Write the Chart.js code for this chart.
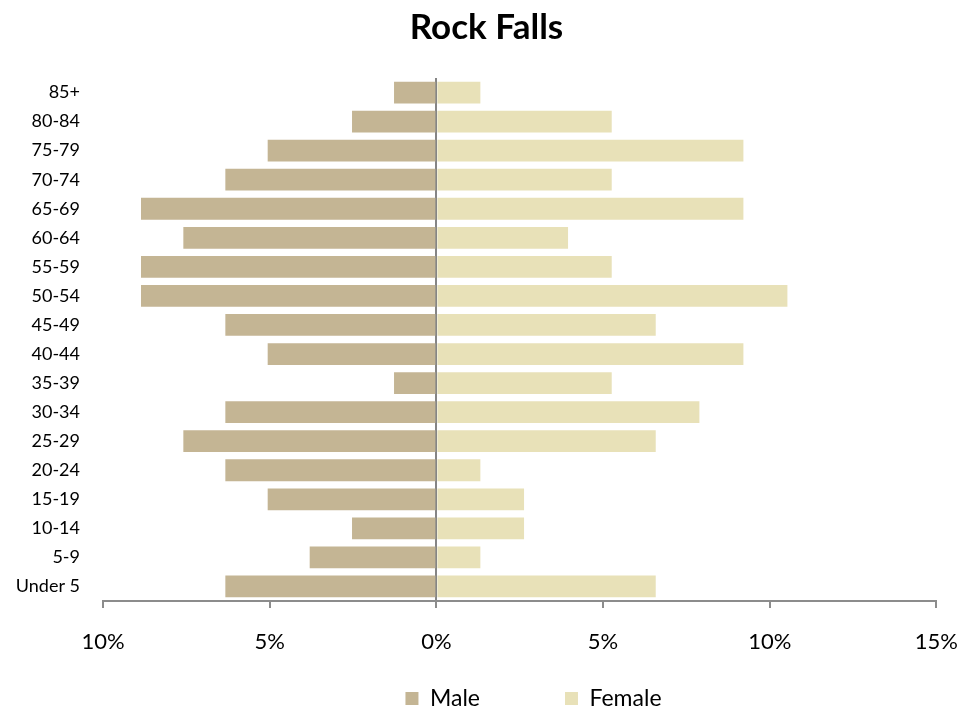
<!DOCTYPE html>
<html>
<head>
<meta charset="utf-8">
<title>Rock Falls</title>
<script src="https://cdn.jsdelivr.net/npm/chart.js@4"></script>
<style>
    html, body { margin: 0; padding: 0; background: #fff; }
    #wrap { width: 979px; height: 713px; }
</style>
</head>
<body>
<div id="wrap"><canvas id="pyramidChart"></canvas></div>
<script>
const ageGroups = ['85+', '80-84', '75-79', '70-74', '65-69', '60-64', '55-59', '50-54', '45-49',
    '40-44', '35-39', '30-34', '25-29', '20-24', '15-19', '10-14', '5-9', 'Under 5'];
// percent of each sex, male drawn to the left
const malePct = [1.27, 2.53, 5.06, 6.33, 8.86, 7.59, 8.86, 8.86, 6.33,
    5.06, 1.27, 6.33, 7.59, 6.33, 5.06, 2.53, 3.80, 6.33];
const femalePct = [1.32, 5.26, 9.21, 5.26, 9.21, 3.95, 5.26, 10.53, 6.58,
    9.21, 5.26, 7.89, 6.58, 1.32, 2.63, 2.63, 1.32, 6.58];
const xTicks = [-10, -5, 0, 5, 10, 15];

const fontFamily = 'Lato, "Open Sans", sans-serif';

// keep the legend items far apart without the padding also making the legend tall
const legendSpacing = {
    id: 'legendSpacing',
    beforeLayout(chart) {
        const legend = chart.legend;
        if (!legend || legend._spaced) return;
        const fit = legend.fit;
        legend.fit = function () {
            fit.call(this);
            this.height = 59;
        };
        legend._spaced = true;
    },
    afterLayout(chart) {
        const legend = chart.legend;
        legend.top = legend.bottom - legend.options.labels.padding - 26;
        legend.left += 65;
        legend.right += 65;
        chart.titleBlock.left += 18;
        chart.titleBlock.right += 18;
    }
};

const ctx = document.getElementById('pyramidChart').getContext('2d');
new Chart(ctx, {
    type: 'bar',
    data: {
        labels: ageGroups,
        datasets: [{
            label: 'Male',
            data: malePct.map(v => -v),
            backgroundColor: '#C4B594',
            categoryPercentage: 0.75,
            barPercentage: 1
        }, {
            label: 'Female',
            data: femalePct,
            backgroundColor: '#E8E1B8',
            categoryPercentage: 0.75,
            barPercentage: 1
        }]
    },
    options: {
        indexAxis: 'y',
        responsive: true,
        maintainAspectRatio: false,
        animation: false,
        layout: {
            padding: { left: 0, right: 42, top: 0, bottom: 0 }
        },
        plugins: {
            title: {
                display: true,
                text: 'Rock Falls',
                color: '#000',
                font: { family: fontFamily, size: 35, weight: 'bold' },
                padding: { top: 7, bottom: 29 }
            },
            legend: {
                position: 'bottom',
                labels: {
                    color: '#000',
                    boxWidth: 13,
                    boxHeight: 13,
                    padding: 85,
                    font: { family: fontFamily, size: 23 }
                }
            },
            tooltip: { enabled: false }
        },
        scales: {
            x: {
                stacked: true,
                min: -10,
                max: 15,
                afterBuildTicks: scale => {
                    scale.ticks = xTicks.map(v => ({ value: v }));
                },
                afterFit: scale => { scale.height = 53; },
                grid: {
                    display: true,
                    drawOnChartArea: true,
                    color: c => (c.tick && c.tick.value === 0 ? '#858585' : 'rgba(0,0,0,0)'),
                    lineWidth: 2,
                    tickColor: '#8c8c8c',
                    tickLength: 7
                },
                border: { display: true, color: '#8c8c8c', width: 2 },
                ticks: {
                    color: '#000',
                    padding: 21,
                    maxRotation: 0,
                    font: { family: fontFamily, size: 22 },
                    callback: v => Math.abs(v) + '%'
                }
            },
            y: {
                stacked: true,
                afterFit: scale => { scale.width = 103; },
                grid: { display: false, drawTicks: false },
                border: { display: false },
                ticks: {
                    color: '#000',
                    padding: 23,
                    autoSkip: false,
                    font: { family: fontFamily, size: 18 }
                }
            }
        }
    },
    plugins: [legendSpacing]
});
</script>
</body>
</html>
